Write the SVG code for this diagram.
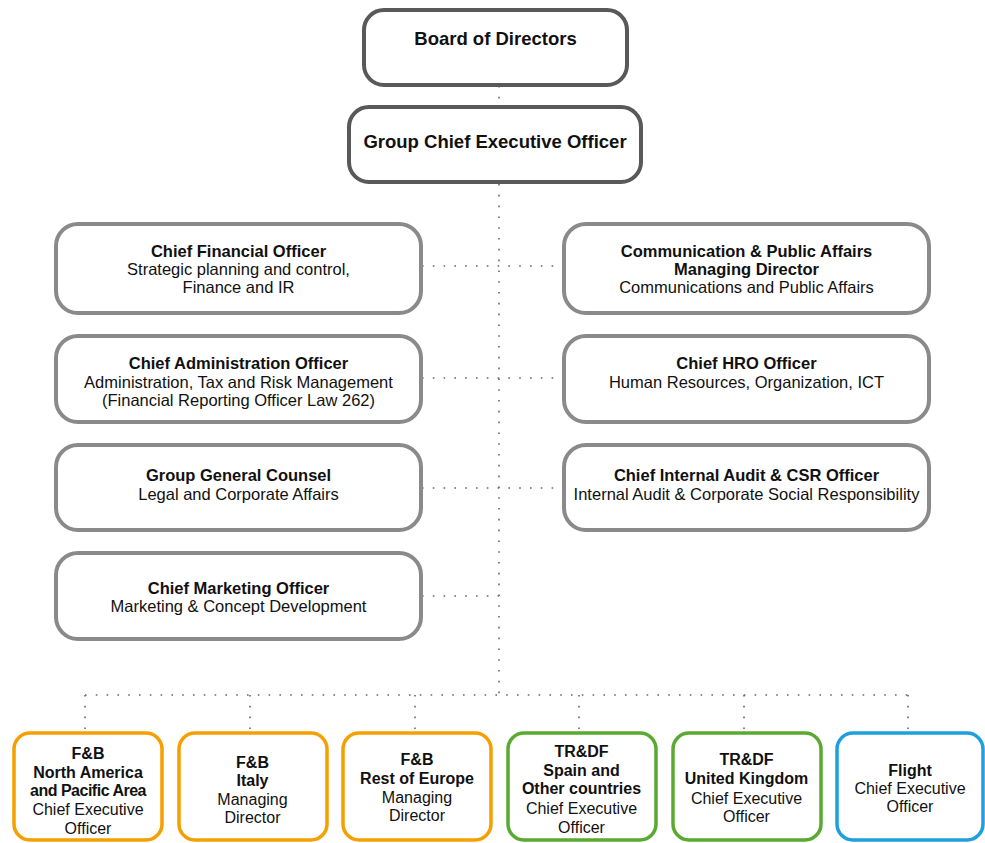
<svg xmlns="http://www.w3.org/2000/svg" width="985" height="843" viewBox="0 0 985 843">
<style>
text{font-family:"Liberation Sans",Arial,sans-serif;fill:#111;text-anchor:middle}
.b{font-weight:bold}
.top{fill:#fff;stroke:#595959;stroke-width:4}
.mid{fill:#fff;stroke:#8a8a8a;stroke-width:4}
.fb{fill:#fff;stroke:#f5a000;stroke-width:3.5}
.tr{fill:#fff;stroke:#5aaa32;stroke-width:3.5}
.fl{fill:#fff;stroke:#1ea0dc;stroke-width:3.5}
.m{font-size:16.5px}
.s{font-size:16px}
.dot{fill:none;stroke:#666;stroke-width:1.6;stroke-dasharray:1.6 9.2}
</style>
<g id="connectors">
<line class="dot" x1="499" y1="86" x2="499" y2="107"/>
<line class="dot" x1="499" y1="184" x2="499" y2="695"/>
<line class="dot" x1="422" y1="266" x2="563" y2="266"/>
<line class="dot" x1="422" y1="378" x2="563" y2="378"/>
<line class="dot" x1="422" y1="488" x2="563" y2="488"/>
<line class="dot" x1="422" y1="596" x2="499" y2="596"/>
<line class="dot" x1="85" y1="695" x2="909" y2="695"/>
<line class="dot" x1="85" y1="695" x2="85" y2="731"/>
<line class="dot" x1="250" y1="695" x2="250" y2="731"/>
<line class="dot" x1="415" y1="695" x2="415" y2="731"/>
<line class="dot" x1="579" y1="695" x2="579" y2="731"/>
<line class="dot" x1="744" y1="695" x2="744" y2="731"/>
<line class="dot" x1="908" y1="695" x2="908" y2="731"/>
</g>
<g id="board">
<rect class="top" x="364" y="10" width="263" height="75" rx="20"/>
<text class="b" x="495.5" y="45" font-size="18.5">Board of Directors</text>
</g>
<g id="gceo">
<rect class="top" x="349" y="107" width="292" height="75" rx="20"/>
<text class="b" x="495" y="148" font-size="18.5">Group Chief Executive Officer</text>
</g>
<g id="cfo">
<rect class="mid" x="56" y="224" width="365" height="89" rx="22"/>
<text class="m b" x="238.5" y="257">Chief Financial Officer</text>
<text class="m" x="238.5" y="275">Strategic planning and control,</text>
<text class="m" x="238.5" y="293">Finance and IR</text>
</g>
<g id="cao">
<rect class="mid" x="56" y="336" width="365" height="86" rx="22"/>
<text class="m b" x="238.5" y="369">Chief Administration Officer</text>
<text class="m" x="238.5" y="388">Administration, Tax and Risk Management</text>
<text class="m" x="238.5" y="406">(Financial Reporting Officer Law 262)</text>
</g>
<g id="ggc">
<rect class="mid" x="56" y="445" width="365" height="85" rx="22"/>
<text class="m b" x="238.5" y="481">Group General Counsel</text>
<text class="m" x="238.5" y="500">Legal and Corporate Affairs</text>
</g>
<g id="cmo">
<rect class="mid" x="56" y="553" width="365" height="86" rx="22"/>
<text class="m b" x="238.5" y="594">Chief Marketing Officer</text>
<text class="m" x="238.5" y="612">Marketing &amp; Concept Development</text>
</g>
<g id="comm">
<rect class="mid" x="564" y="224" width="365" height="89" rx="22"/>
<text class="m b" x="746.5" y="257">Communication &amp; Public Affairs</text>
<text class="m b" x="746.5" y="275">Managing Director</text>
<text class="m" x="746.5" y="293">Communications and Public Affairs</text>
</g>
<g id="hro">
<rect class="mid" x="564" y="336" width="365" height="86" rx="22"/>
<text class="m b" x="746.5" y="369">Chief HRO Officer</text>
<text class="m" x="746.5" y="388">Human Resources, Organization, ICT</text>
</g>
<g id="audit">
<rect class="mid" x="564" y="445" width="365" height="85" rx="22"/>
<text class="m b" x="746.5" y="481">Chief Internal Audit &amp; CSR Officer</text>
<text class="m" x="746.5" y="500">Internal Audit &amp; Corporate Social Responsibility</text>
</g>
<g id="fb-na">
<rect class="fb" x="14" y="733" width="148" height="107" rx="16"/>
<text class="s b" x="88" y="759">F&amp;B</text>
<text class="s b" x="88" y="778">North America</text>
<text class="s b" x="88" y="796" letter-spacing="-0.5">and Pacific Area</text>
<text class="s" x="88" y="815">Chief Executive</text>
<text class="s" x="88" y="834">Officer</text>
</g>
<g id="fb-italy">
<rect class="fb" x="179" y="733" width="148" height="107" rx="16"/>
<text class="s b" x="252.5" y="768">F&amp;B</text>
<text class="s b" x="252.5" y="786">Italy</text>
<text class="s" x="252.5" y="805">Managing</text>
<text class="s" x="252.5" y="823">Director</text>
</g>
<g id="fb-europe">
<rect class="fb" x="343" y="733" width="148" height="107" rx="16"/>
<text class="s b" x="417" y="765">F&amp;B</text>
<text class="s b" x="417" y="784">Rest of Europe</text>
<text class="s" x="417" y="803">Managing</text>
<text class="s" x="417" y="821">Director</text>
</g>
<g id="trdf-spain">
<rect class="tr" x="508" y="733" width="148" height="107" rx="16"/>
<text class="s b" x="581.5" y="757">TR&amp;DF</text>
<text class="s b" x="581.5" y="776">Spain and</text>
<text class="s b" x="581.5" y="794">Other countries</text>
<text class="s" x="581.5" y="814">Chief Executive</text>
<text class="s" x="581.5" y="833">Officer</text>
</g>
<g id="trdf-uk">
<rect class="tr" x="673" y="733" width="148" height="107" rx="16"/>
<text class="s b" x="746.5" y="765">TR&amp;DF</text>
<text class="s b" x="746.5" y="784">United Kingdom</text>
<text class="s" x="746.5" y="804">Chief Executive</text>
<text class="s" x="746.5" y="822">Officer</text>
</g>
<g id="flight">
<rect class="fl" x="837" y="733" width="146" height="107" rx="16"/>
<text class="s b" x="910" y="776">Flight</text>
<text class="s" x="910" y="794">Chief Executive</text>
<text class="s" x="910" y="812">Officer</text>
</g>
</svg>
